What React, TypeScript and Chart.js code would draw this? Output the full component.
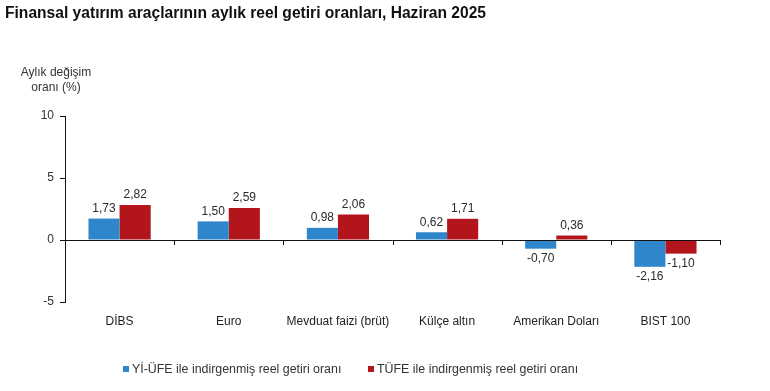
import React, { useEffect, useRef } from "react";
import { Chart, registerables } from "chart.js";

Chart.register(...registerables);

const categories = ["DİBS", "Euro", "Mevduat faizi (brüt)", "Külçe altın", "Amerikan Doları", "BIST 100"];
const yiUfeValues = [1.73, 1.5, 0.98, 0.62, -0.7, -2.16];
const tufeValues = [2.82, 2.59, 2.06, 1.71, 0.36, -1.1];
const seriesNames = ["Yİ-ÜFE ile indirgenmiş reel getiri oranı", "TÜFE ile indirgenmiş reel getiri oranı"];
const yTicks = [-5, 0, 5, 10];
const titleText = "Finansal yatırım araçlarının aylık reel getiri oranları, Haziran 2025";
const yTitleLines = ["Aylık değişim", "oranı (%)"];

const BLUE = "#2f86cb";
const RED = "#b3151c";
const FONT = "'Liberation Sans', Arial, sans-serif";

const fmt = (v: number) => v.toFixed(2).replace(".", ",");

const decorPlugin = {
  id: "decor",
  afterDatasetsDraw(chart: any) {
    const { ctx, scales } = chart;
    const x = scales.x;
    const y = scales.y;
    const y0 = y.getPixelForValue(0);
    ctx.save();
    // zero line with category boundary ticks
    ctx.strokeStyle = "#111";
    ctx.lineWidth = 1;
    ctx.beginPath();
    ctx.moveTo(chart.chartArea.left, Math.round(y0) + 0.5);
    ctx.lineTo(chart.chartArea.right, Math.round(y0) + 0.5);
    const step = x.getPixelForValue(1) - x.getPixelForValue(0);
    for (let i = 1; i <= categories.length; i++) {
      const px = Math.round(x.getPixelForValue(i) - step / 2) + 0.5;
      ctx.moveTo(px, Math.round(y0));
      ctx.lineTo(px, Math.round(y0) + 5);
    }
    ctx.stroke();

    // data labels
    ctx.font = `12px ${FONT}`;
    ctx.fillStyle = "#2a2a2a";
    ctx.textAlign = "center";
    chart.data.datasets.forEach((ds: any, di: number) => {
      const meta = chart.getDatasetMeta(di);
      meta.data.forEach((bar: any, i: number) => {
        const v = ds.data[i];
        if (v >= 0) {
          ctx.textBaseline = "bottom";
          ctx.fillText(fmt(v), bar.x, bar.y - 4);
        } else {
          ctx.textBaseline = "top";
          ctx.fillText(fmt(v), bar.x, bar.y + 4);
        }
      });
    });

    // title
    ctx.textAlign = "left";
    ctx.textBaseline = "alphabetic";
    ctx.fillStyle = "#111";
    ctx.font = `bold 15.6px ${FONT}`;
    ctx.fillText(titleText, 5, 18);

    // y title
    ctx.font = `12px ${FONT}`;
    ctx.fillStyle = "#333";
    ctx.textAlign = "center";
    ctx.fillText(yTitleLines[0], 56, 76);
    ctx.fillText(yTitleLines[1], 56, 91);

    // legend
    const colors = [BLUE, RED];
    const starts = [123, 368];
    ctx.textAlign = "left";
    ctx.textBaseline = "middle";
    ctx.font = `12.4px ${FONT}`;
    seriesNames.forEach((name, i) => {
      ctx.fillStyle = colors[i];
      ctx.fillRect(starts[i], 366, 6, 6);
      ctx.fillStyle = "#333";
      ctx.fillText(name, starts[i] + 9, 369.5);
    });
    ctx.restore();
  },
};

export default function App() {
  const ref = useRef<HTMLCanvasElement>(null);
  useEffect(() => {
    if (!ref.current) return;
    const chart = new Chart(ref.current, {
      type: "bar",
      data: {
        labels: categories,
        datasets: [
          { label: seriesNames[0], data: yiUfeValues, backgroundColor: BLUE },
          { label: seriesNames[1], data: tufeValues, backgroundColor: RED },
        ],
      },
      options: {
        animation: false,
        responsive: false,
        maintainAspectRatio: false,
        layout: { padding: { top: 116, right: 50, bottom: 59, left: 0 } },
        plugins: { legend: { display: false }, title: { display: false }, tooltip: { enabled: false } },
        datasets: { bar: { categoryPercentage: 0.57, barPercentage: 1 } },
        scales: {
          x: {
            grid: { display: false, drawTicks: false },
            border: { display: false },
            ticks: { padding: 12, color: "#222", font: { family: FONT, size: 12 } },
            afterFit(scale: any) {
              scale.height = 30;
            },
          },
          y: {
            min: -5,
            max: 10,
            afterBuildTicks(scale: any) {
              scale.ticks = yTicks.map((v) => ({ value: v }));
            },
            grid: { drawOnChartArea: false, drawTicks: true, tickLength: 5, color: "#111" },
            border: { display: true, color: "#111" },
            ticks: { padding: 6, color: "#333", font: { family: FONT, size: 12 } },
            afterFit(scale: any) {
              scale.width = 65;
            },
          },
        },
      },
      plugins: [decorPlugin],
    });
    return () => chart.destroy();
  }, []);
  return (
    <div style={{ position: "absolute", left: 0, top: 0, width: 770, height: 391, background: "#fff" }}>
      <canvas ref={ref} width={770} height={391} style={{ width: 770, height: 391 }} />
    </div>
  );
}
